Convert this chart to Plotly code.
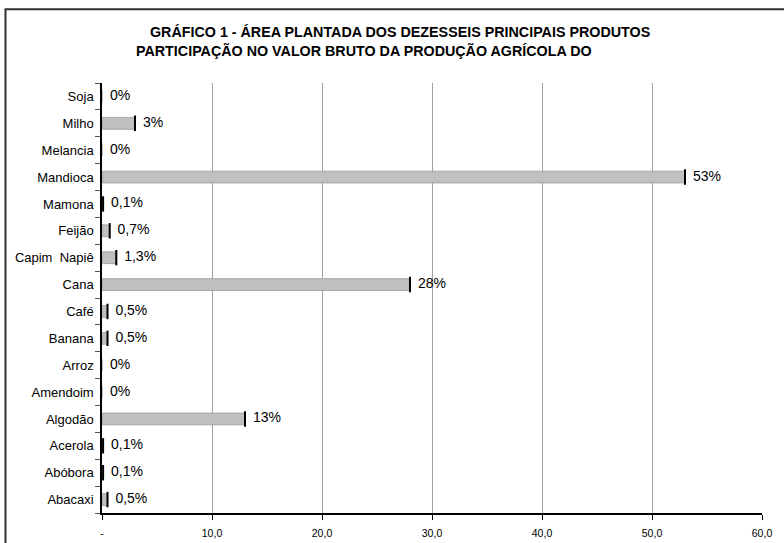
import plotly.graph_objects as go

# Crops, top to bottom, and their share (%) of the gross agricultural production value
produtos = ["Soja", "Milho", "Melancia", "Mandioca", "Mamona", "Feijão", "Capim  Napiê",
            "Cana", "Café", "Banana", "Arroz", "Amendoim", "Algodão", "Acerola",
            "Abóbora", "Abacaxi"]
participacao = [0, 3, 0, 53, 0.1, 0.7, 1.3, 28, 0.5, 0.5, 0, 0, 13, 0.1, 0.1, 0.5]

x_ticks = [0, 10, 20, 30, 40, 50, 60]
x_tick_labels = ["-", "10,0", "20,0", "30,0", "40,0", "50,0", "60,0"]

titulo_1 = "GRÁFICO 1 - ÁREA PLANTADA DOS DEZESSEIS PRINCIPAIS PRODUTOS"
titulo_2 = "PARTICIPAÇÃO NO VALOR BRUTO DA PRODUÇÃO AGRÍCOLA DO"

rotulos = [f"{v:g}".replace(".", ",") + "%" for v in participacao]

W, H = 784, 543
L, R, T, B = 102, 22, 82.5, 29.5
pw, ph = W - L - R, H - T - B


def px_x(px):
    return (px - L) / pw


def px_y(py):
    return (H - B - py) / ph


FONT = "Arial, Liberation Sans, sans-serif"

fig = go.Figure()

fig.add_trace(go.Bar(
    x=participacao, y=produtos, orientation="h",
    marker=dict(color="#c0c0c0", line=dict(color="#9a9a9a", width=0.8)),
    width=0.44, hoverinfo="skip", showlegend=False,
))

# dark cap at the end of each bar, plus the value label
fig.add_trace(go.Scatter(
    x=participacao, y=produtos, mode="markers+text",
    marker=dict(symbol="line-ns", size=11, color="black",
                line=dict(color="black", width=[2 if v > 0 else 0 for v in participacao])),
    text=rotulos, textposition="middle right",
    textfont=dict(family=FONT, size=14, color="black"),
    cliponaxis=False, hoverinfo="skip", showlegend=False,
))

fig.update_layout(
    width=W, height=H,
    margin=dict(l=L, r=R, t=T, b=B, pad=0, autoexpand=False),
    paper_bgcolor="white", plot_bgcolor="white",
    font=dict(family=FONT, color="black"),
    bargap=0.5,
    xaxis=dict(
        range=[0, 60], tickvals=x_ticks, ticktext=x_tick_labels,
        tickfont=dict(size=10.5, color="black"),
        showgrid=True, gridcolor="#a0a0a0", gridwidth=1,
        showline=True, linecolor="black", linewidth=1.5,
        ticks="outside", ticklen=5, tickcolor="black", tickwidth=1,
        ticklabelstandoff=5, zeroline=False, fixedrange=True, automargin=False,
    ),
    yaxis=dict(
        categoryorder="array", categoryarray=produtos[::-1],
        range=[-0.5, len(produtos) - 0.5], autorange=False,
        tickfont=dict(size=13, color="black"),
        showline=True, linecolor="black", linewidth=1.5,
        ticks="outside", tickson="boundaries", ticklen=5, tickcolor="#555555",
        showgrid=False, zeroline=False, ticklabelstandoff=4, fixedrange=True,
        automargin=False,
    ),
    shapes=[dict(type="rect", xref="paper", yref="paper",
                 x0=px_x(5.5), x1=px_x(800), y0=px_y(560), y1=px_y(8.5),
                 line=dict(color="#303030", width=2), layer="below")],
    annotations=[
        dict(text=titulo_1, xref="paper", yref="paper", x=px_x(148), y=px_y(31),
             xanchor="left", yanchor="middle", showarrow=False,
             font=dict(family=FONT, size=14.3, color="black", weight="bold")),
        dict(text=titulo_2, xref="paper", yref="paper", x=px_x(134), y=px_y(50),
             xanchor="left", yanchor="middle", showarrow=False,
             font=dict(family=FONT, size=14.3, color="black", weight="bold")),
    ],
)

fig.write_html("out.html")
